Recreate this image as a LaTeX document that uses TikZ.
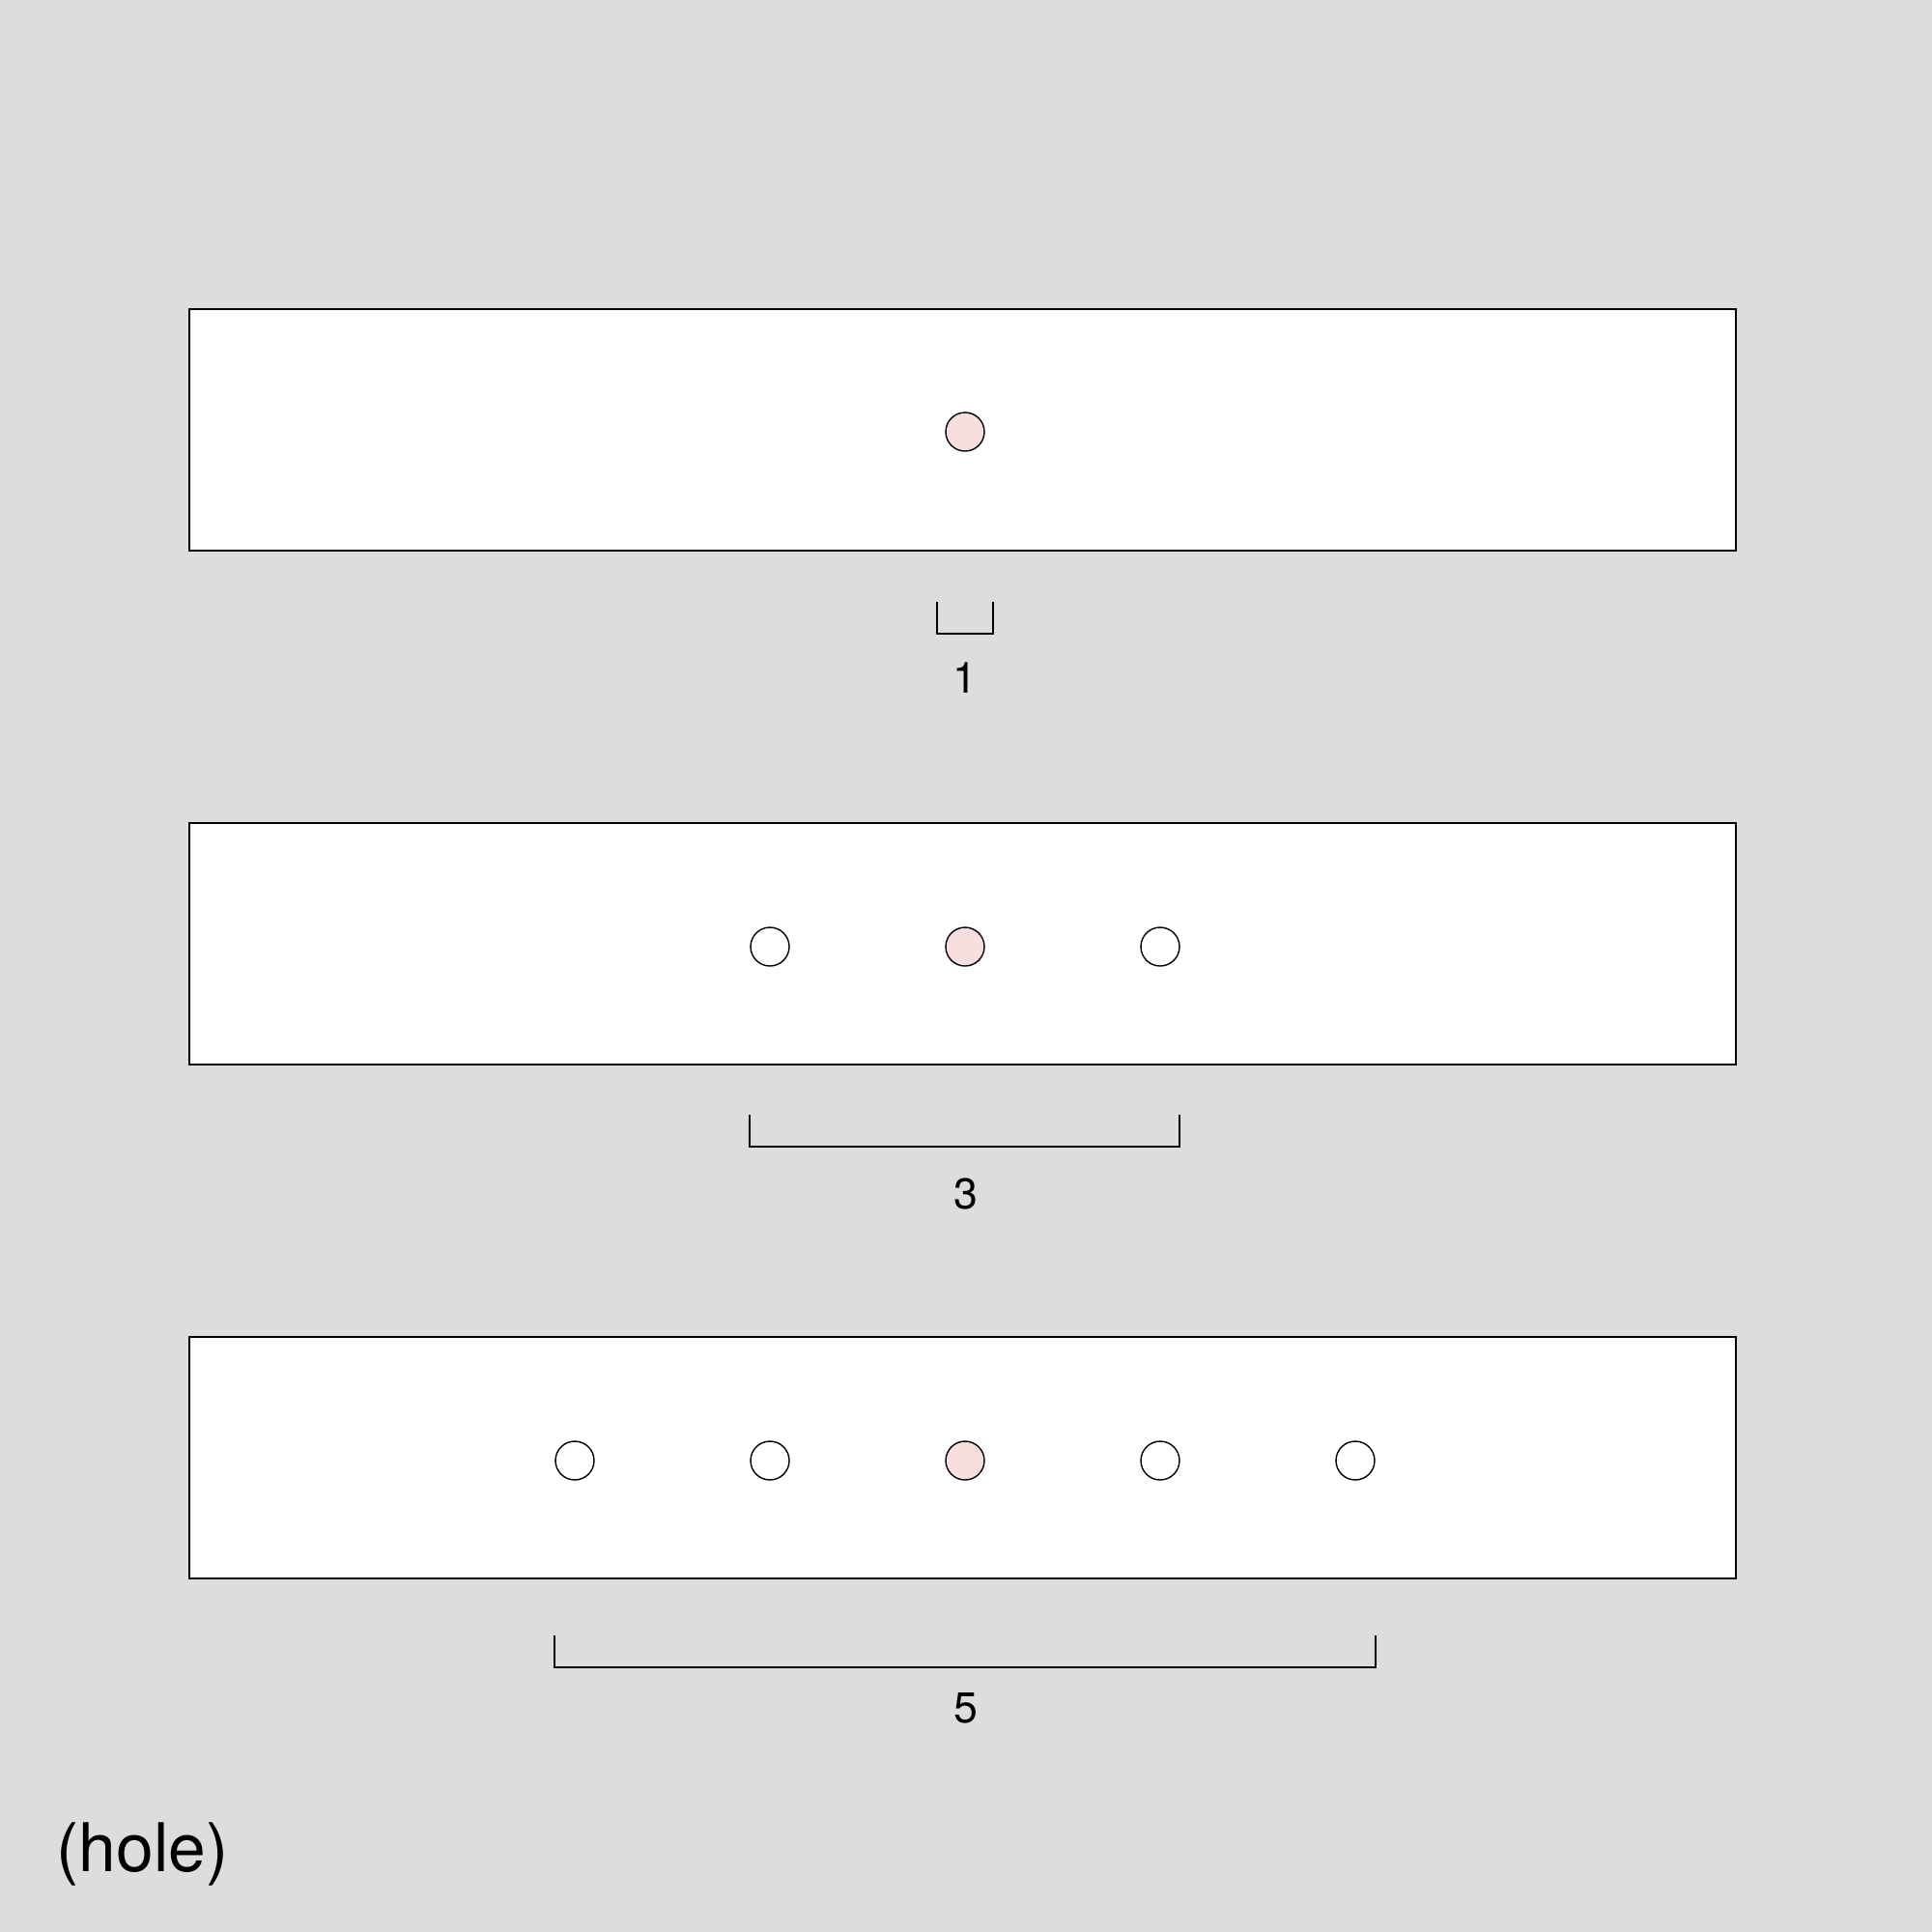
\documentclass[tikz,border=0pt]{standalone}
\usepackage{fontspec}
\setmainfont{TeX Gyre Heros}
\definecolor{bggray}{HTML}{DDDDDC}
\definecolor{holepink}{HTML}{F8DEDE}

\begin{document}
\begin{tikzpicture}[y=-1cm,
    strip/.style={draw,line width=0.55pt,fill=white},
    hole/.style={circle,draw,line width=0.4pt,fill=white,minimum size=4mm,inner sep=0},
    center hole/.style={hole,fill=holepink},
    bracket/.style={line width=0.55pt},
    count/.style={inner sep=0,font=\fontsize{12.7}{15}\selectfont}]
    \pgfmathsetmacro{\stripleft}{1.96}
    \pgfmathsetmacro{\stripright}{17.97}
    \pgfmathsetmacro{\stripheight}{2.5}
    \pgfmathsetmacro{\holestep}{2.02}
    \fill[bggray] (0,0) rectangle (20,20);
    % one hole
    \draw[strip] (\stripleft,3.2) rectangle (\stripright,3.2+\stripheight);
    \node[center hole] (h1-0) at (9.99,4.47) {};
    \coordinate (b1a) at (9.70,6.23);
    \coordinate (b1b) at (10.28,6.56);
    \draw[bracket] (b1a) |- (b1b) -- (b1b |- b1a);
    \node[count] (n1) at (9.99,7.02) {1};
    % three holes
    \draw[strip] (\stripleft,8.52) rectangle (\stripright,8.52+\stripheight);
    \foreach \i/\s in {-1/hole,0/center hole,1/hole}
        \node[\s] (h2\i) at ({9.99+\i*\holestep},9.80) {};
    \coordinate (b2a) at (7.76,11.54);
    \coordinate (b2b) at (12.21,11.87);
    \draw[bracket] (b2a) |- (b2b) -- (b2b |- b2a);
    \node[count] (n3) at (10,12.36) {3};
    % five holes
    \draw[strip] (\stripleft,13.84) rectangle (\stripright,13.84+\stripheight);
    \foreach \i/\s in {-2/hole,-1/hole,0/center hole,1/hole,2/hole}
        \node[\s] (h3\i) at ({9.99+\i*\holestep},15.12) {};
    \coordinate (b3a) at (5.74,16.93);
    \coordinate (b3b) at (14.24,17.26);
    \draw[bracket] (b3a) |- (b3b) -- (b3b |- b3a);
    \node[count] (n5) at (10,17.68) {5};
    \node[anchor=base west,inner sep=0,font=\fontsize{19.8}{24}\selectfont] (title) at (0.58,19.37) {(hole)};
\end{tikzpicture}
\end{document}
